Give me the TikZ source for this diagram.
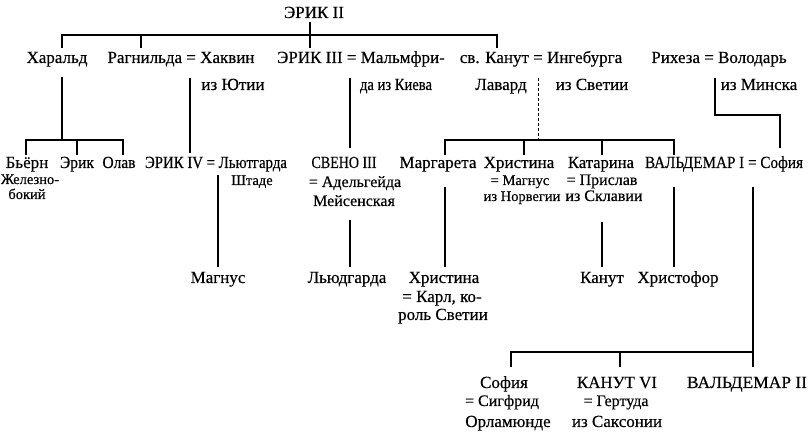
\documentclass[tikz,border=0pt]{standalone}
\usepackage{graphicx}
\usepackage{fontspec}
\setmainfont{Liberation Serif}[FakeBold=0.4]
\newcommand{\fw}[2]{\resizebox{#1pt}{\height}{#2}}
\begin{document}
\begin{tikzpicture}[x=1pt,y=-1pt,
  nm/.style={anchor=base,inner sep=0pt,font=\fontsize{17}{19}\selectfont},
  md/.style={anchor=base,inner sep=0pt,font=\fontsize{16}{18}\selectfont},
  sm/.style={anchor=base,inner sep=0pt,font=\fontsize{14.5}{16}\selectfont},
  ln/.style={line width=1.7pt},
  dl/.style={line width=0.9pt,dash pattern=on 3pt off 2pt}]
\useasboundingbox (0,0) rectangle (812,438);
% ---------- texts ----------
\node[nm] (erik2) at (314,18) {ЭРИК II};
\node[nm] (harald) at (57,63) {Харальд};
\node[nm] (ragn) at (181,63) {Рагнильда = Хаквин};
\node[nm] (ragnb) at (233,90) {из Ютии};
\node[nm] (erik3) at (361,63) {ЭРИК III = Мальмфри-};
\node[nm] (erik3b) at (396,90) {\fw{72}{да из Киева}};
\node[nm] (kanut) at (541,63) {св. Канут = Ингебурга};
\node[nm] (lavard) at (501,90) {Лавард};
\node[nm] (svet) at (592,90) {из Светии};
\node[nm] (rikh) at (719,63) {Рихеза = Володарь};
\node[nm] (minsk) at (759,90) {из Минска};
% row 2
\node[nm] (bjorn) at (27,168) {Бьёрн};
\node[sm] (bjornb) at (30,184) {Железно-};
\node[sm] (bjornc) at (27,199) {бокий};
\node[nm] (erik) at (77,168) {\fw{34}{Эрик}};
\node[nm] (olav) at (119,168) {\fw{33}{Олав}};
\node[nm] (erik4) at (216,168) {\fw{142}{ЭРИК IV = Льютгарда}};
\node[sm] (shtade) at (252,185) {Штаде};
\node[nm] (sveno) at (344,168) {\fw{65}{СВЕНО III}};
\node[md] (svenob) at (355,187) {= Адельгейда};
\node[md] (svenoc) at (354,206) {Мейсенская};
\node[nm] (margr) at (438,168) {Маргарета};
\node[nm] (khr) at (519,168) {Христина};
\node[sm] (khrb) at (520,185) {= Магнус};
\node[sm] (khrc) at (522,201) {из Норвегии};
\node[nm] (kat) at (601,168) {\fw{66}{Катарина}};
\node[md] (katb) at (602,185) {= Прислав};
\node[md] (katc) at (604,201) {из Склавии};
\node[nm] (vald) at (724,168) {\fw{158}{ВАЛЬДЕМАР I = София}};
% row 3
\node[nm] (magnus) at (218,283) {Магнус};
\node[nm] (ljud) at (347,283) {Льюдгарда};
\node[nm] (khr2) at (444,283) {Христина};
\node[nm] (khr2b) at (442,302) {= Карл, ко-};
\node[nm] (khr2c) at (443,320) {роль Светии};
\node[nm] (kanut2) at (602,283) {Канут};
\node[nm] (khrist) at (678,283) {Христофор};
% bottom
\node[nm] (sof) at (504,388) {София};
\node[md] (sofb) at (502,406) {= Сигфрид};
\node[nm] (sofc) at (508,427) {Орламюнде};
\node[nm] (kan6) at (617,388) {\fw{80}{КАНУТ VI}};
\node[md] (kan6b) at (616,406) {= Гертуда};
\node[nm] (kan6c) at (617,427) {из Саксонии};
\node[nm] (vald2) at (747,388) {\fw{120}{ВАЛЬДЕМАР II}};
% ---------- junctions ----------
\coordinate (a0) at (310,22);
\coordinate (a1) at (62,35);  \coordinate (a2) at (141,35);
\coordinate (a3) at (310,35); \coordinate (a4) at (497,35);
\coordinate (a1d) at (62,48); \coordinate (a2d) at (141,48);
\coordinate (a3d) at (310,48); \coordinate (a4d) at (497,48);
\coordinate (h0) at (62,77); \coordinate (hm) at (62,140);
\coordinate (h1) at (26,140);
\coordinate (h2) at (77,140); \coordinate (h3) at (123,140);
\coordinate (h1d) at (26,155); \coordinate (h2d) at (77,155); \coordinate (h3d) at (123,155);
\coordinate (r0) at (190,78); \coordinate (r1) at (190,153);
\coordinate (e0) at (350,78); \coordinate (e1) at (350,148);
\coordinate (k0) at (538,78); \coordinate (k1) at (538,140);
\coordinate (k2) at (445,140); \coordinate (k3) at (524,140);
\coordinate (k4) at (602,140); \coordinate (k5) at (674,140);
\coordinate (k2d) at (445,155); \coordinate (k3d) at (524,155);
\coordinate (k4d) at (602,155); \coordinate (k5d) at (674,155);
\coordinate (v0) at (715,78); \coordinate (v1) at (715,115);
\coordinate (v2) at (780,115); \coordinate (v3) at (780,148);
\coordinate (m0) at (218,175); \coordinate (m1) at (218,267);
\coordinate (s0) at (350,220); \coordinate (s1) at (350,267);
\coordinate (g0) at (445,187); \coordinate (g1) at (445,267);
\coordinate (c0) at (602,222); \coordinate (c1) at (602,267);
\coordinate (w0) at (674,187); \coordinate (w1) at (674,267);
\coordinate (b0) at (753,187); \coordinate (b1) at (753,352);
\coordinate (b2) at (511,352); \coordinate (b3) at (620,352);
\coordinate (b1d) at (753,367); \coordinate (b2d) at (511,367); \coordinate (b3d) at (620,367);
% ---------- lines ----------
\draw[ln] (a0) -- (a3);
\draw[ln] (a1d) -- (a1) -- (a4) -- (a4d);
\draw[ln] (a2) -- (a2d);
\draw[ln] (a3) -- (a3d);
\draw[ln] (h0) -- (hm);
\draw[ln] (h1d) -- (h1) -- (h3) -- (h3d);
\draw[ln] (h2) -- (h2d);
\draw[ln] (r0) -- (r1);
\draw[ln] (e0) -- (e1);
\draw[dl] (k0) -- (k1);
\draw[ln] (k2d) -- (k2) -- (k5) -- (k5d);
\draw[ln] (k3) -- (k3d);
\draw[ln] (k4) -- (k4d);
\draw[ln] (v0) -- (v1) -- (v2) -- (v3);
\draw[ln] (m0) -- (m1);
\draw[ln] (s0) -- (s1);
\draw[ln] (g0) -- (g1);
\draw[ln] (c0) -- (c1);
\draw[ln] (w0) -- (w1);
\draw[ln] (b0) -- (b1d);
\draw[ln] (b2d) -- (b2) -- (b1);
\draw[ln] (b3) -- (b3d);
\end{tikzpicture}
\end{document}
